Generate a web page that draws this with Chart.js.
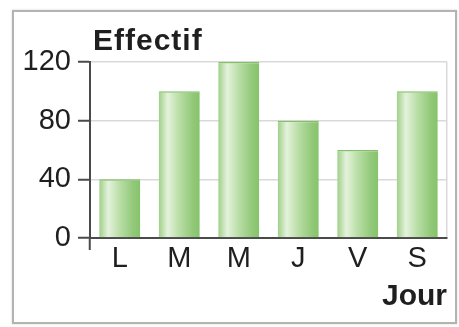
<!DOCTYPE html>
<html lang="fr">
<head>
<meta charset="utf-8">
<title>Effectif par jour</title>
<script src="https://cdn.jsdelivr.net/npm/chart.js@4.4.1/dist/chart.umd.min.js"></script>
<style>
  html, body { margin: 0; padding: 0; background: #ffffff; }
  body { width: 459px; height: 327px; position: relative; overflow: hidden; }
  .frame {
    position: absolute; left: 12px; top: 10px; width: 445px; height: 314px;
    box-sizing: border-box; border: 2px solid #b3b3b3;
    box-shadow: 0 0 2px rgba(0,0,0,0.18);
  }
  #chart { position: absolute; left: 0; top: 0; }
</style>
</head>
<body>
<div class="frame"></div>
<canvas id="chart" width="459" height="327"></canvas>
<script>
// Jours de la semaine et effectifs
const jours = ['L', 'M', 'M', 'J', 'V', 'S'];
const effectifs = [40, 100, 120, 80, 60, 100];
const yTicks = [0, 40, 80, 120];
const titreY = 'Effectif';
const titreX = 'Jour';

const FONT = '"Liberation Sans", Arial, Helvetica, sans-serif';
const TEXT = '#1f1f1f';
const AXIS = '#4a4a4a';
const GRID = '#d9d9d9';

// Horizontal "cylinder" shading for each bar, built from the scale position
function barGradient(c) {
  const chart = c.chart;
  const xs = chart.scales.x;
  if (!xs || !chart.chartArea || c.dataIndex === undefined) return '#a8d590';
  const center = xs.getPixelForValue(c.dataIndex);
  const w = (xs.width / jours.length) * 0.69;
  const g = chart.ctx.createLinearGradient(center - w / 2, 0, center + w / 2, 0);
  g.addColorStop(0, '#9fcf86');
  g.addColorStop(0.22, '#e4f2dc');
  g.addColorStop(0.5, '#b9dea6');
  g.addColorStop(0.82, '#93c97a');
  g.addColorStop(1, '#86c36b');
  return g;
}

// Axis title drawn above the value axis
const titreAxeY = {
  id: 'titreAxeY',
  afterDraw(chart) {
    const { ctx, chartArea } = chart;
    ctx.save();
    ctx.font = 'bold 30px ' + FONT;
    ctx.fillStyle = TEXT;
    ctx.textAlign = 'left';
    ctx.textBaseline = 'alphabetic';
    if ('letterSpacing' in ctx) ctx.letterSpacing = '1px';
    ctx.fillText(titreY, chartArea.left + 3, 50);
    ctx.restore();
  }
};

new Chart(document.getElementById('chart'), {
  type: 'bar',
  data: {
    labels: jours,
    datasets: [{
      data: effectifs,
      backgroundColor: barGradient,
      borderColor: '#84c068',
      borderWidth: { top: 1.5, left: 0, right: 0, bottom: 0 },
      borderSkipped: 'bottom',
      categoryPercentage: 0.69,
      barPercentage: 1
    }]
  },
  options: {
    responsive: false,
    animation: false,
    devicePixelRatio: 1,
    layout: { padding: { top: 62, right: 12, left: 0, bottom: 0 } },
    plugins: {
      legend: { display: false },
      tooltip: { enabled: false },
      title: { display: false }
    },
    scales: {
      x: {
        afterFit(scale) { scale.height = 89; },
        grid: {
          display: true,
          drawOnChartArea: true,
          color: (c) => (c.index === undefined ? GRID : 'rgba(0,0,0,0)'),
          tickColor: (c) => (c.index === 0 ? AXIS : 'rgba(0,0,0,0)'),
          tickLength: 12,
          tickWidth: 2,
          lineWidth: 1.5
        },
        border: { display: true, color: AXIS, width: 2 },
        ticks: {
          color: TEXT,
          font: { family: FONT, size: 29 },
          padding: -8,
          maxRotation: 0,
          autoSkip: false
        },
        title: {
          display: true,
          text: titreX,
          align: 'end',
          color: TEXT,
          font: { family: FONT, size: 30, weight: 'bold' },
          padding: { top: 0, bottom: 12 }
        }
      },
      y: {
        min: 0,
        max: 120,
        afterFit(scale) { scale.width = 90; },
        ticks: {
          stepSize: 20,
          color: TEXT,
          font: { family: FONT, size: 29 },
          padding: 7,
          callback: (v) => (yTicks.includes(v) ? String(v) : '')
        },
        grid: {
          color: GRID,
          lineWidth: 1.5,
          tickLength: 12,
          tickWidth: 2,
          tickColor: (c) => (c.tick && yTicks.includes(c.tick.value) ? AXIS : 'rgba(0,0,0,0)')
        },
        border: { display: true, color: AXIS, width: 2 }
      }
    }
  },
  plugins: [titreAxeY]
});
</script>
</body>
</html>
